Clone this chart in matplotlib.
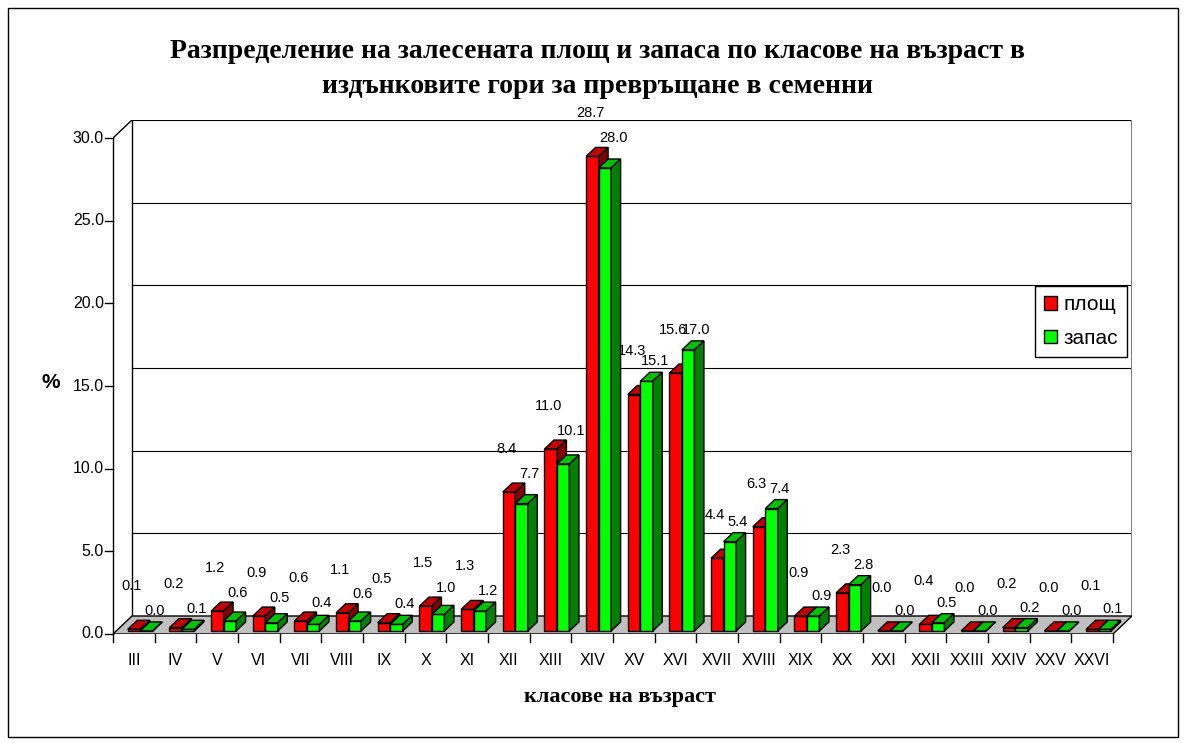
import numpy as np
import matplotlib.pyplot as plt
from matplotlib.patches import Polygon, Rectangle, Patch

# data
classes = ["III", "IV", "V", "VI", "VII", "VIII", "IX", "X", "XI", "XII", "XIII", "XIV",
           "XV", "XVI", "XVII", "XVIII", "XIX", "XX", "XXI", "XXII", "XXIII", "XXIV", "XXV", "XXVI"]
area = [0.1, 0.2, 1.2, 0.9, 0.6, 1.1, 0.5, 1.5, 1.3, 8.4, 11.0, 28.7,
        14.3, 15.6, 4.4, 6.3, 0.9, 2.3, 0.0, 0.4, 0.0, 0.2, 0.0, 0.1]
stock = [0.0, 0.1, 0.6, 0.5, 0.4, 0.6, 0.4, 1.0, 1.2, 7.7, 10.1, 28.0,
         15.1, 17.0, 5.4, 7.4, 0.9, 2.8, 0.0, 0.5, 0.0, 0.2, 0.0, 0.1]
yticks = [0, 5, 10, 15, 20, 25, 30]

title = "Разпределение на залесената площ и запаса по класове на възраст в\nиздънковите гори за превръщане в семенни"

# 3d depth vector (categories, value units)
Dx, Dy = 0.456, 1.089
f0, f1 = 0.17, 0.67
bw = 0.30
xoff = 0.277

W, H = 1186, 743
fig = plt.figure(figsize=(W / 100, H / 100), dpi=100)
ax = fig.add_axes([113 / W, (H - 634) / H, 1019 / W, (634 - 120) / H])
ax.set_xlim(-0.5, 23.5 + Dx)
ax.set_ylim(0, 30 + Dy)
ax.axis("off")

n = len(classes)
x = np.arange(n)

# floor
floor = Polygon([(-0.5, 0), (n - 0.5, 0), (n - 0.5 + Dx, Dy), (-0.5 + Dx, Dy)],
                closed=True, facecolor="#c0c0c0", edgecolor="black", lw=1, zorder=1)
ax.add_patch(floor)

# back wall + gridlines
for v in yticks[1:]:
    ax.plot([-0.5 + Dx, n - 0.5 + Dx], [v + Dy, v + Dy], color="black", lw=0.8, zorder=0.5)
ax.plot([n - 0.5 + Dx, n - 0.5 + Dx], [Dy, 30 + Dy], color="#808080", lw=1.5, zorder=0.5)
ax.plot([-0.5 + Dx, -0.5 + Dx], [Dy, 30 + Dy], color="black", lw=1, zorder=0.5)
ax.plot([-0.5, -0.5 + Dx], [30, 30 + Dy], color="black", lw=1, zorder=0.5)
ax.plot([-0.5, -0.5], [0, 30], color="black", lw=1, zorder=4, clip_on=False)

# y ticks
for v in yticks:
    ax.plot([-0.5 - 0.19, -0.5], [v, v], color="black", lw=1, clip_on=False)
    ax.text(-0.5 - 0.22, v, f"{v:.1f}", ha="right", va="center", fontsize=11.5,
            family="Liberation Sans")

# x ticks
for k in range(n + 1):
    ax.plot([k - 0.5, k - 0.5], [0, -0.5], color="black", lw=1, clip_on=False)
for i, c in enumerate(classes):
    ax.text(i, -1.6, c, ha="center", va="center", fontsize=11.5, family="Liberation Sans")


def faces(left, h, top_col, side_col, z):
    top = [(left + f0 * Dx, h + f0 * Dy), (left + bw + f0 * Dx, h + f0 * Dy),
           (left + bw + f1 * Dx, h + f1 * Dy), (left + f1 * Dx, h + f1 * Dy)]
    side = [(left + bw + f0 * Dx, f0 * Dy), (left + bw + f1 * Dx, f1 * Dy),
            (left + bw + f1 * Dx, h + f1 * Dy), (left + bw + f0 * Dx, h + f0 * Dy)]
    ax.add_patch(Polygon(top, closed=True, facecolor=top_col, edgecolor="black", lw=1, zorder=z))
    ax.add_patch(Polygon(side, closed=True, facecolor=side_col, edgecolor="black", lw=1, zorder=z))


red_left = x - 0.5 + xoff
green_left = red_left + bw
ax.bar(red_left + f0 * Dx, area, width=bw, bottom=f0 * Dy, align="edge",
       color="#ff0000", edgecolor="black", lw=1, zorder=2)
for i in range(n):
    faces(red_left[i], area[i], "#c00000", "#800000", 2)
ax.bar(green_left + f0 * Dx, stock, width=bw, bottom=f0 * Dy, align="edge",
       color="#00ff00", edgecolor="black", lw=1, zorder=3)
for i in range(n):
    faces(green_left[i], stock[i], "#00c000", "#008000", 3)

# data labels: red above its bar, green to the right and clear of a taller red bar
for i in range(n):
    ax.text(x[i] - 0.05, area[i] + 2.8, f"{area[i]:.1f}", ha="center",
            va="center", fontsize=10.5, family="Liberation Sans", zorder=6)
    gy = max(stock[i] + 1.4, area[i] + 1.3)
    ax.text(x[i] + 0.5, gy, f"{stock[i]:.1f}", ha="center",
            va="center", fontsize=10.5, family="Liberation Sans", zorder=6)

# titles and axis labels
fig.text(597 / W, 1 - 69 / H, title, ha="center", va="center", fontsize=20,
         fontweight="bold", family="Liberation Serif", linespacing=1.5)
fig.text(620 / W, 1 - 697 / H, "класове на възраст", ha="center", va="center",
         fontsize=16, fontweight="bold", family="Liberation Serif")
fig.text(51 / W, 1 - 383 / H, "%", ha="center", va="center", fontsize=15,
         fontweight="bold", family="Liberation Sans")

# legend
handles = [Patch(facecolor="#ff0000", edgecolor="black"), Patch(facecolor="#00ff00", edgecolor="black")]
leg = fig.legend(handles, ["площ", "запас"], loc="upper left",
                 bbox_to_anchor=(1035 / W, 1 - 286 / H), frameon=True, fancybox=False,
                 edgecolor="black", framealpha=1, prop={"family": "Liberation Sans", "size": 15},
                 handlelength=0.6, handleheight=0.6, handletextpad=0.3, labelspacing=0.7,
                 borderpad=0.45, borderaxespad=0)
leg.get_frame().set_linewidth(1)

# outer frame
fig.patches.append(Rectangle((8 / W, 6 / H), 1170 / W, 729 / H, transform=fig.transFigure,
                             fill=False, edgecolor="black", lw=1))

fig.savefig("out.png", dpi=100)
